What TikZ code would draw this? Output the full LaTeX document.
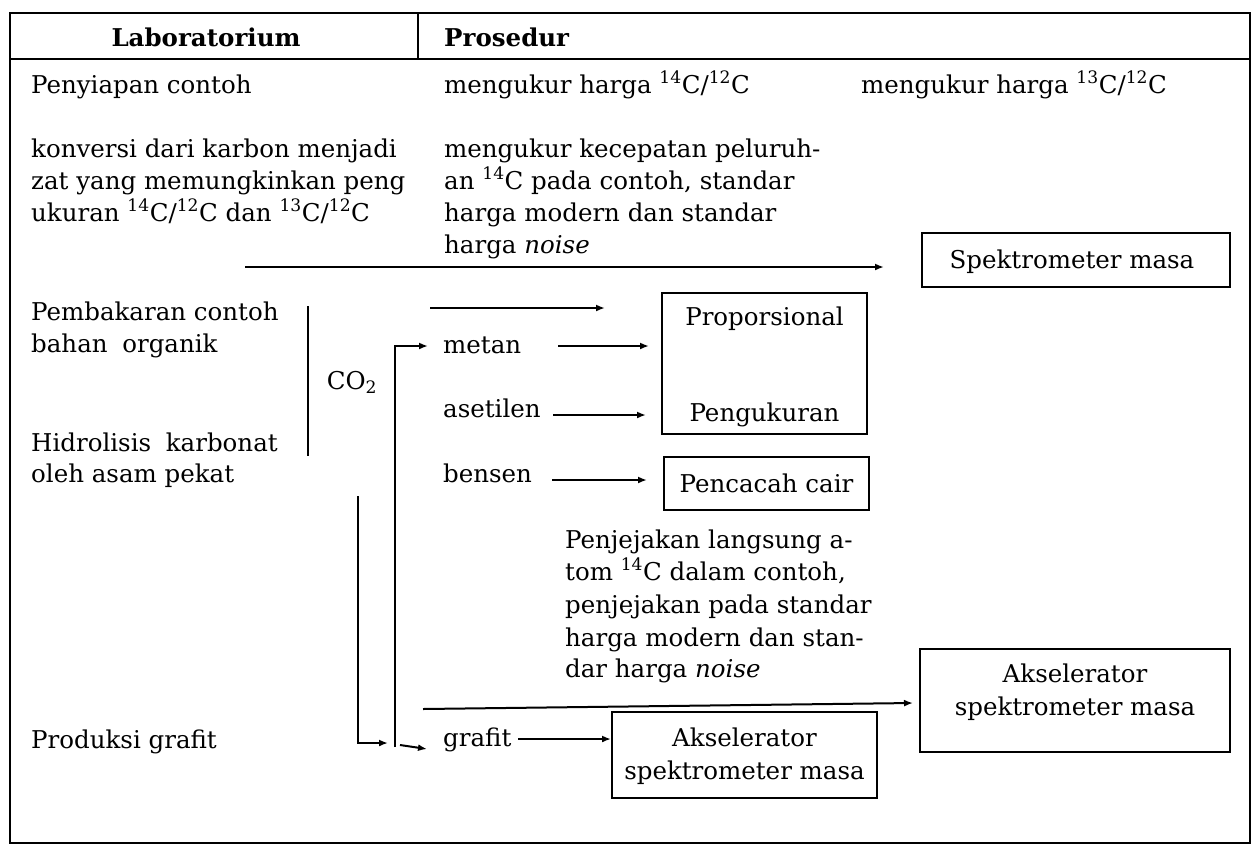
\documentclass[tikz,border=0pt]{standalone}
\usepackage{fontspec}
\setmainfont{DejaVu Serif}
\usetikzlibrary{arrows.meta}
\begin{document}
\begin{tikzpicture}[x=1pt,y=-1pt,
 t/.style={inner sep=0pt, anchor=base west, font=\fontsize{24.5}{32}\selectfont},
 tc/.style={inner sep=0pt, anchor=base, font=\fontsize{24.5}{32}\selectfont},
 hd/.style={inner sep=0pt, font=\fontsize{24.5}{32}\selectfont\bfseries},
 bx/.style={draw, line width=2pt, inner sep=0pt},
 arr/.style={-{Latex[length=9pt,width=7pt]}, line width=2pt},
 ln/.style={line width=2pt},
 frm/.style={line width=2.8pt}]
\useasboundingbox (0,0) rectangle (1252,847);
\fill[white] (0,0) rectangle (1252,847);
% table frame
\coordinate (TL) at (10,13);
\coordinate (BR) at (1250,843);
\coordinate (HL) at (10,59);
\coordinate (HR) at (1250,59);
\coordinate (DT) at (418,13);
\coordinate (DB) at (418,59);
\draw[frm] (TL) rectangle (BR);
\draw[ln] (HL) -- (HR);
\draw[ln] (DT) -- (DB);
% header
\node[hd, anchor=base] (hlab) at (206,46) {Laboratorium};
\node[hd, anchor=base west] (hpro) at (444,46) {Prosedur};
% left column
\node[t] (p1) at (31,93) {Penyiapan contoh};
\node[t] (k1) at (31,157) {konversi dari karbon menjadi};
\node[t] (k2) at (31,189) {zat yang memungkinkan peng};
\node[t] (k3) at (31,221) {ukuran \textsuperscript{14}C/\textsuperscript{12}C dan \textsuperscript{13}C/\textsuperscript{12}C};
\node[t] (b1) at (31,320) {Pembakaran contoh};
\node[t] (b2) at (31,352) {bahan\hspace{0.6em}organik};
\node[t] (h1) at (31,451) {Hidrolisis\hspace{0.6em}karbonat};
\node[t] (h2) at (31,482) {oleh asam pekat};
\node[t] (pg) at (31,748) {Produksi grafit};
% procedure column
\node[t] (m14) at (444,93) {mengukur harga \textsuperscript{14}C/\textsuperscript{12}C};
\node[t] (m13) at (861,93) {mengukur harga \textsuperscript{13}C/\textsuperscript{12}C};
\node[t] (q1) at (444,157) {mengukur kecepatan peluruh-};
\node[t] (q2) at (444,189) {an \textsuperscript{14}C pada contoh, standar};
\node[t] (q3) at (444,221) {harga modern dan standar};
\node[t] (q4) at (444,253) {harga \textit{noise}};
\node[inner sep=0pt, font=\fontsize{24.5}{32}\selectfont] (co2) at (352,382) {CO\textsubscript{2}};
\node[t] (metan) at (443,353) {metan};
\node[t] (asetilen) at (443,417) {asetilen};
\node[t] (bensen) at (443,482) {bensen};
\node[t] (grafit) at (443,746) {grafit};
\node[t] (j1) at (565,548) {Penjejakan langsung a-};
\node[t] (j2) at (565,580) {tom \textsuperscript{14}C dalam contoh,};
\node[t] (j3) at (565,613) {penjejakan pada standar};
\node[t] (j4) at (565,646) {harga modern dan stan-};
\node[t] (j5) at (565,677) {dar harga \textit{noise}};
% boxes
\node[bx, minimum width=308pt, minimum height=54pt] (spek) at (1076,260) {};
\node[tc] (spekT) at (1072,268) {Spektrometer masa};
\node[bx, minimum width=205pt, minimum height=141pt] (prop) at (764.5,363.5) {};
\node[tc] (propT1) at (764.5,325) {Proporsional};
\node[tc] (propT2) at (764.5,421) {Pengukuran};
\node[bx, minimum width=205pt, minimum height=53pt] (penc) at (766.5,483.5) {};
\node[tc] (pencT) at (766.5,492) {Pencacah cair};
\node[bx, minimum width=310pt, minimum height=103pt] (akR) at (1075,700.5) {};
\node[tc] (akRT1) at (1075,682) {Akselerator};
\node[tc] (akRT2) at (1075,715) {spektrometer masa};
\node[bx, minimum width=265pt, minimum height=86pt] (akL) at (744.5,755) {};
\node[tc] (akLT1) at (744.5,746) {Akselerator};
\node[tc] (akLT2) at (744.5,779) {spektrometer masa};
% connectors
\coordinate (s1) at (245,267);
\coordinate (s1e) at (884,267);
\draw[arr] (s1) -- (s1e);
\coordinate (f1) at (430,308);
\coordinate (f1e) at (605,308);
\draw[arr] (f1) -- (f1e);
\coordinate (c1) at (308,306);
\coordinate (c2) at (308,456);
\draw[ln] (c1) -- (c2);
\coordinate (am) at (558,346);
\draw[arr, shorten >=12pt] (am) -- (am -| prop.west);
\coordinate (aa) at (553,415);
\draw[arr, shorten >=15pt] (aa) -- (aa -| prop.west);
\coordinate (ab) at (552,480);
\draw[arr, shorten >=16pt] (ab) -- (ab -| penc.west);
\coordinate (ag) at (518,739);
\draw[arr] (ag) -- (ag -| akL.west);
\coordinate (r0) at (395,747);
\coordinate (rt) at (428,346);
\draw[arr] (r0) |- (rt);
\coordinate (l0) at (358,496);
\coordinate (lt) at (388,743);
\draw[arr] (l0) |- (lt);
\coordinate (g0) at (400,745);
\coordinate (g1) at (427,749);
\draw[arr] (g0) -- (g1);
\coordinate (la) at (423,709);
\coordinate (lb) at (913,703);
\draw[arr] (la) -- (lb);
\end{tikzpicture}
\end{document}
